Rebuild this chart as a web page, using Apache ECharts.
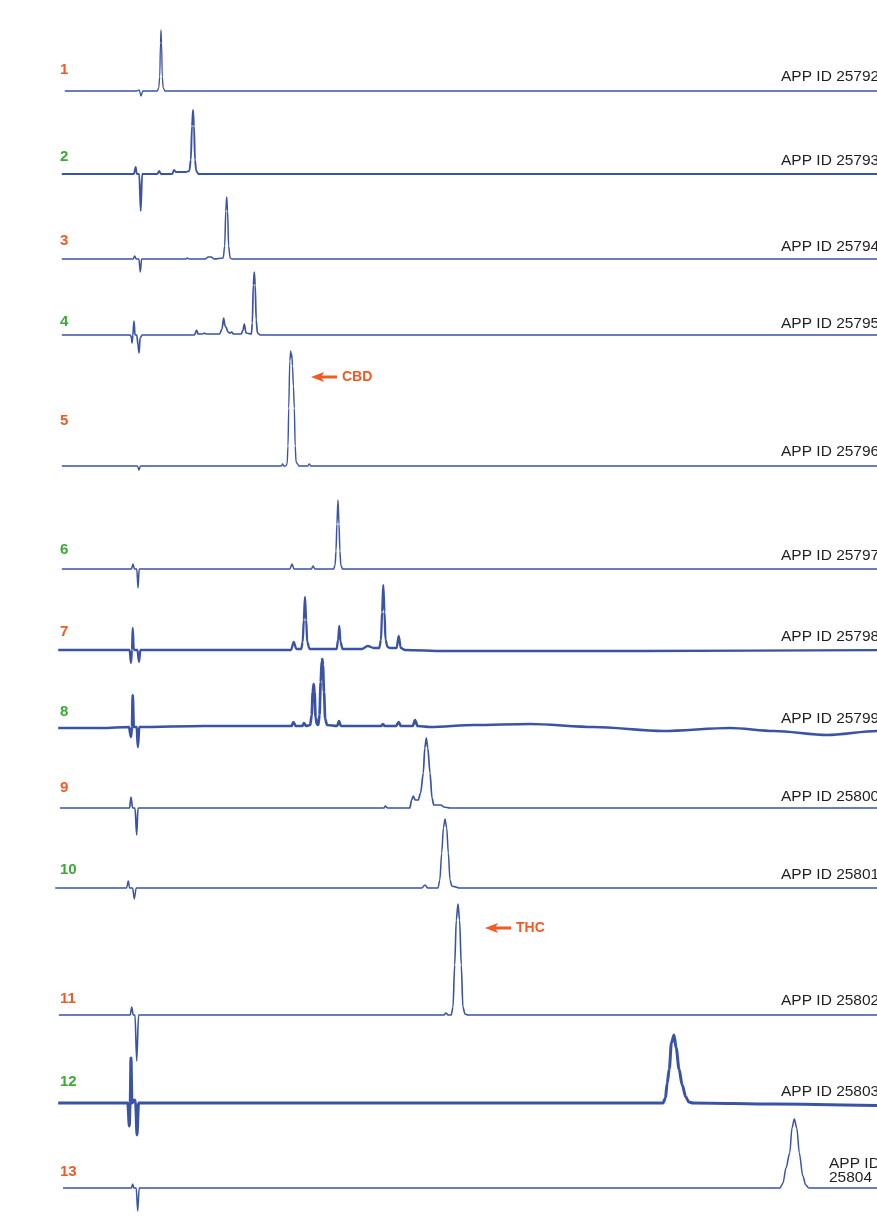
<!DOCTYPE html>
<html>
<head>
<meta charset="utf-8">
<script src="https://cdn.jsdelivr.net/npm/echarts@6/dist/echarts.min.js"></script>
<style>
	html, body { margin: 0; padding: 0; background: #fff; }
	#chart { width: 877px; height: 1226px; }
</style>
</head>
<body>
<div id="chart"></div>
<script>
	// sample numbers and instrument ids
	const sampleNumbers = ['1','2','3','4','5','6','7','8','9','10','11','12','13'];
	const appIds = ['APP ID 25792','APP ID 25793','APP ID 25794','APP ID 25795','APP ID 25796','APP ID 25797',
		'APP ID 25798','APP ID 25799','APP ID 25800','APP ID 25801','APP ID 25802','APP ID 25803','APP ID\n25804'];

	// chromatograms: [time (min), signal]
	const trace01 = [[0.18,0],[1.38,0],[1.42,1],[1.45,-5],[1.48,0],[1.72,0],[1.745,3],[1.762,14],[1.775,48],[1.783,61],[1.793,48],[1.805,14],[1.82,3],[1.85,0],[14,0]];
	const trace02 = [[0.13,0],[1.33,0],[1.362,7],[1.38,0],[1.42,0],[1.445,-37],[1.47,0],[1.72,0],[1.755,3],[1.78,0],[1.97,0],[2.0,4],[2.03,2],[2.2,2],[2.255,3],[2.28,14],[2.30,48],[2.317,64],[2.333,48],[2.35,14],[2.37,3],[2.41,0],[14,0]];
	const trace03 = [[0.13,0],[1.32,0],[1.345,3],[1.37,0],[1.415,0],[1.438,-13],[1.46,0],[2.2,0],[2.22,1],[2.25,0],[2.52,0],[2.57,2],[2.62,2],[2.67,0],[2.82,1],[2.845,13],[2.863,48],[2.878,62],[2.893,48],[2.91,13],[2.935,1],[2.97,0],[14,0]];
	const trace04 = [[0.13,0],[1.27,0],[1.29,-2],[1.30,-8],[1.315,0],[1.333,14],[1.35,0],[1.38,0],[1.40,-10],[1.417,-18],[1.435,-3],[1.47,0],[2.34,0],[2.378,5],[2.40,1],[2.48,1],[2.505,2],[2.53,1],[2.76,1],[2.80,6],[2.828,17],[2.85,9],[2.867,8],[2.9,3],[2.93,2],[2.962,3],[2.99,1],[3.12,1],[3.15,5],[3.172,11],[3.20,2],[3.29,1],[3.305,12],[3.322,50],[3.338,63],[3.353,50],[3.37,15],[3.39,2],[3.44,0],[14,0]];
	const trace05 = [[0.13,0],[1.39,0],[1.417,-4],[1.44,0],[3.79,0],[3.81,2],[3.83,0],[3.86,0],[3.885,2],[3.90,20],[3.912,58],[3.93,105],[3.945,115],[3.955,109],[3.963,112],[3.975,100],[3.99,80],[4.005,58],[4.02,20],[4.035,4],[4.06,2],[4.08,0],[4.23,0],[4.255,2],[4.28,0],[14,0]];
	const trace06 = [[0.13,0],[1.29,0],[1.317,5],[1.34,0],[1.38,0],[1.40,-19],[1.42,0],[3.93,0],[3.967,5],[4.0,0],[4.29,0],[4.317,3],[4.35,0],[4.66,0],[4.685,4],[4.70,18],[4.715,45],[4.733,69],[4.75,45],[4.765,18],[4.78,4],[4.81,0],[14,0]];
	const trace07 = [[0.07,0],[1.26,0],[1.283,-13],[1.30,0],[1.312,22],[1.33,0],[1.39,0],[1.417,-12],[1.44,0],[3.95,0],[3.995,8],[4.04,1],[4.12,1],[4.145,8],[4.163,30],[4.183,53],[4.203,30],[4.22,8],[4.26,1],[4.71,1],[4.735,10],[4.755,24],[4.775,8],[4.81,1],[5.13,1],[5.23,4],[5.33,2],[5.42,2],[5.45,10],[5.468,38],[5.488,65],[5.508,38],[5.525,10],[5.56,3],[5.6,2],[5.71,2],[5.745,14],[5.78,2],[5.85,0],[6.5,-1],[9.8,-1],[14,0]];
	const trace08 = [[0.07,-1],[0.8,-1],[1.25,0],[1.283,-10],[1.30,0],[1.312,32],[1.33,0],[1.38,0],[1.398,-20],[1.42,0],[2.5,1],[3.5,1],[3.96,1],[3.99,5],[4.03,1],[4.14,1],[4.167,4],[4.20,1],[4.27,2],[4.295,12],[4.312,35],[4.328,43],[4.343,35],[4.36,10],[4.38,3],[4.405,2],[4.425,12],[4.445,45],[4.462,66],[4.472,68],[4.482,62],[4.50,35],[4.52,8],[4.55,2],[4.72,1],[4.75,6],[4.78,1],[5.0,1],[5.45,1],[5.483,3],[5.51,1],[5.7,1],[5.745,5],[5.78,1],[5.98,1],[6.017,7],[6.06,1],[6.267,0],[7.0,2],[7.933,3],[9.0,0],[10.15,-4],[11.267,-1],[12.0,-4],[12.883,-8],[13.717,-4],[14,-4]];
	const trace09 = [[0.1,0],[1.26,0],[1.283,11],[1.31,0],[1.35,0],[1.378,-27],[1.40,0],[5.5,0],[5.52,2],[5.56,0],[5.93,0],[5.96,8],[5.988,12],[6.02,8],[6.07,8],[6.11,15],[6.155,35],[6.18,60],[6.205,70],[6.23,60],[6.267,35],[6.30,10],[6.33,3],[6.38,3],[6.45,3],[6.5,1],[6.6,0],[14,0]];
	const trace10 = [[0.02,0],[1.21,0],[1.238,7],[1.26,0],[1.31,0],[1.338,-11],[1.37,0],[6.13,0],[6.183,3],[6.23,0],[6.40,0],[6.43,8],[6.462,35],[6.49,60],[6.517,69],[6.545,60],[6.572,35],[6.60,8],[6.63,2],[6.7,1],[6.75,0],[14,0]];
	const trace11 = [[0.08,0],[1.27,0],[1.295,8],[1.32,0],[1.35,0],[1.378,-46],[1.41,0],[6.5,0],[6.533,2],[6.57,0],[6.62,0],[6.65,8],[6.678,50],[6.705,95],[6.733,111],[6.76,95],[6.788,50],[6.815,8],[6.85,1],[6.9,0],[14,0]];
	const trace12 = [[0.07,0],[1.23,0],[1.255,-23],[1.27,0],[1.283,45],[1.30,0],[1.345,3],[1.36,0],[1.383,-32],[1.41,0],[10.15,0],[10.19,5],[10.22,20],[10.255,34],[10.29,60],[10.333,68],[10.37,55],[10.417,34],[10.47,18],[10.53,6],[10.58,1],[10.65,0],[12,-1],[14,-3]];
	const trace13 = [[0.15,0],[1.29,0],[1.312,4],[1.33,0],[1.37,0],[1.395,-23],[1.42,0],[12.10,0],[12.15,5],[12.2,20],[12.262,35],[12.30,60],[12.338,69],[12.38,60],[12.422,35],[12.48,12],[12.53,3],[12.58,0],[14,0]];

	const traces = [trace01,trace02,trace03,trace04,trace05,trace06,trace07,trace08,trace09,trace10,trace11,trace12,trace13];

	// layout (pixels)
	const baselineY = [91,174,259,335,466,569,650,727,808,888,1015,1103,1188];
	const numberY = [70,157,241,322,421,550,632,712,788,870,999,1082,1172];
	const appIdY = [77,161,247,324,452,556,637,719,797,875,1001,1092,1171];
	const lineWidths = [1.3,1.9,1.5,1.7,1.4,1.5,2.3,2.7,1.7,1.5,1.6,3.0,1.5];

	const traceColor = '#3a53a4';
	const orange = '#f15a24';
	const green = '#3aaa35';
	const fontFamily = '"Liberation Sans", Arial, sans-serif';

	const grids = [], xAxes = [], yAxes = [], series = [];
	traces.forEach((d, i) => {
		grids.push({ left: 54, right: 0, top: baselineY[i] - 120, height: 180, outerBoundsMode: 'none', containLabel: false });
		xAxes.push({ type: 'value', gridIndex: i, min: 0, max: 13.7167, show: false });
		yAxes.push({ type: 'value', gridIndex: i, min: -60, max: 120, show: false });
		series.push({
			type: 'line',
			xAxisIndex: i,
			yAxisIndex: i,
			data: d,
			showSymbol: false,
			silent: true,
			smooth: 0.3,
			smoothMonotone: 'x',
			lineStyle: { color: traceColor, width: lineWidths[i], join: 'round' },
			z: 2
		});
	});

	const graphics = [];
	sampleNumbers.forEach((s, i) => {
		graphics.push({
			type: 'text', x: 60, y: numberY[i],
			style: { text: s, fill: i % 2 === 0 ? orange : green, font: 'bold 15px ' + fontFamily, verticalAlign: 'middle' }
		});
	});
	appIds.forEach((s, i) => {
		const last = i === appIds.length - 1;
		graphics.push({
			type: 'text', x: last ? 829 : 781, y: appIdY[i],
			style: { text: s, fill: '#231f20', font: '15.5px ' + fontFamily, verticalAlign: 'middle', lineHeight: 14 }
		});
	});

	// peak annotations
	const annotate = (tipX, y, label) => {
		graphics.push({ type: 'line', shape: { x1: tipX + 8, y1: y, x2: tipX + 26, y2: y }, style: { stroke: orange, lineWidth: 3 } });
		graphics.push({ type: 'polygon', shape: { points: [[tipX, y], [tipX + 13, y - 5], [tipX + 10, y], [tipX + 13, y + 5]] }, style: { fill: orange } });
		graphics.push({ type: 'text', x: tipX + 31, y: y, style: { text: label, fill: orange, font: 'bold 14px ' + fontFamily, verticalAlign: 'middle' } });
	};
	annotate(311, 377, 'CBD');
	annotate(485, 928, 'THC');

	const chart = echarts.init(document.getElementById('chart'));
	chart.setOption({
		backgroundColor: '#ffffff',
		animation: false,
		grid: grids,
		xAxis: xAxes,
		yAxis: yAxes,
		series: series,
		graphic: graphics
	});
</script>
</body>
</html>
